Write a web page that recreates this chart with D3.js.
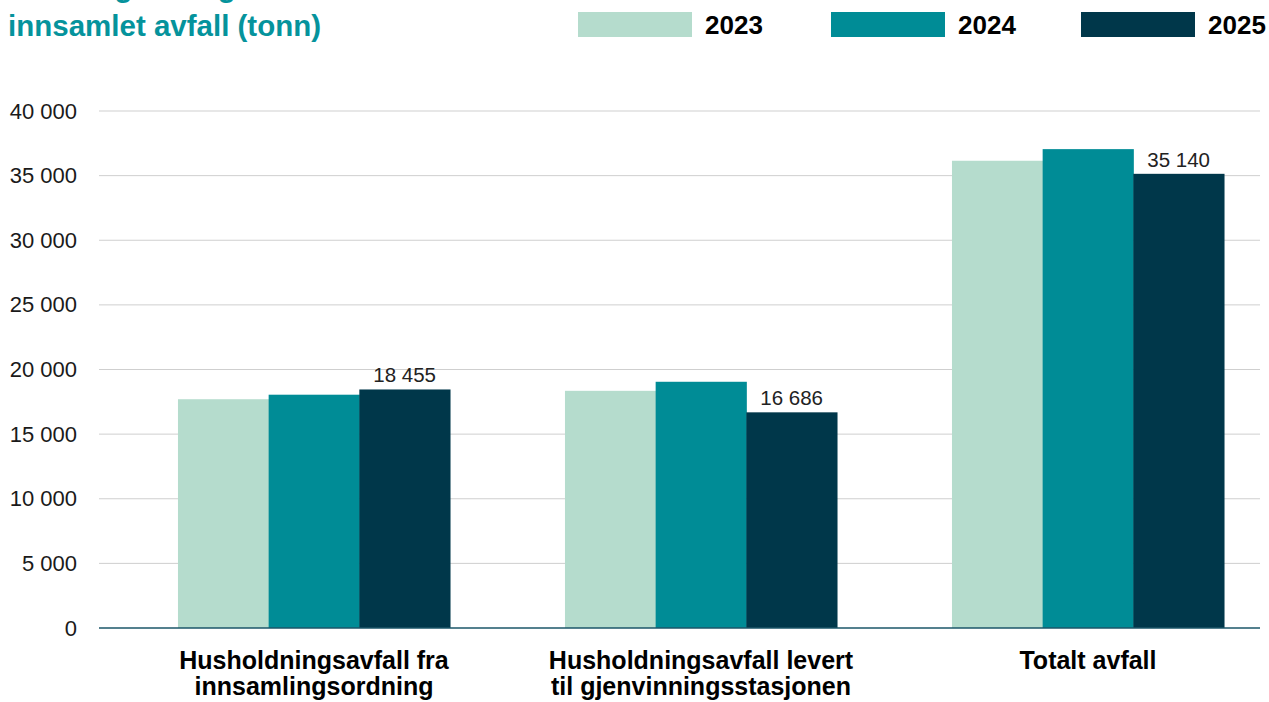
<html>
<script src='https://d3js.org/d3.v7.min.js'></script>
<style>
  body { margin: 0; background: white; }
  text { font-family: "Liberation Sans", Arial, Helvetica, sans-serif; }
</style>
<body>
<svg width=1269 height=702></svg>
<script>
// data
const categories = [
  ["Husholdningsavfall fra", "innsamlingsordning"],
  ["Husholdningsavfall levert", "til gjenvinningsstasjonen"],
  ["Totalt avfall"]
];
const years = ["2023", "2024", "2025"];
const values2023 = [17700, 18350, 36150];
const values2024 = [18050, 19050, 37050];
const values2025 = [18455, 16686, 35140];
const yTicks = [0, 5000, 10000, 15000, 20000, 25000, 30000, 35000, 40000];
const colors = ["#b5dccd", "#008c96", "#00374a"];

const series = [values2023, values2024, values2025];
const svg = d3.select("svg");

var plotLeft = 99, plotRight = 1260, plotTop = 111, plotBottom = 628;

var xs = d3.scaleBand()
  .domain(d3.range(categories.length))
  .range([plotLeft, plotRight])
  .paddingInner(0.297)
  .paddingOuter(0.1485)
  .align(0.687);

var xsub = d3.scaleBand()
  .domain(years)
  .range([0, xs.bandwidth()]);

var ys = d3.scaleLinear().domain([0, 40000]).range([plotBottom, plotTop]);

const fmt = v => d3.format(",")(v).replace(/,/g, " ");

// Title (first line is cut off at the top)
svg.append("text").attr("x", 8).attr("y", -3)
  .attr("font-size", 29.5).attr("font-weight", "bold").attr("fill", "#05939c")
  .text("Utvikling i mengde");
svg.append("text").attr("x", 8).attr("y", 36)
  .attr("font-size", 29.5).attr("font-weight", "bold").attr("fill", "#05939c")
  .text("innsamlet avfall (tonn)");

// Legend
var legendX = [578, 831, 1081];
years.forEach(function(yr, i) {
  svg.append("rect").attr("x", legendX[i]).attr("y", 12)
    .attr("width", 114).attr("height", 25).attr("fill", colors[i]);
  svg.append("text").attr("x", legendX[i] + 127).attr("y", 34)
    .attr("font-size", 26).attr("font-weight", "bold").attr("fill", "#000")
    .text(yr);
});

// Grid lines
svg.append("g")
  .selectAll("line")
  .data(yTicks.filter(d => d > 0))
  .enter()
  .append("line")
  .attr("x1", plotLeft).attr("x2", plotRight)
  .attr("y1", d => ys(d)).attr("y2", d => ys(d))
  .attr("stroke", "#cfcfcf").attr("stroke-width", 1);

// Y axis labels
svg.append("g")
  .attr("transform", "translate(" + 77 + ",0)")
  .call(d3.axisLeft(ys).tickValues(yTicks).tickSize(0).tickPadding(0).tickFormat(fmt))
  .call(g => g.select(".domain").remove())
  .call(g => g.selectAll("text")
    .attr("font-size", 22)
    .attr("font-family", "Liberation Sans, Arial, sans-serif")
    .attr("fill", "#1a1a1a"));

// Bars
var groups = svg.append("g")
  .selectAll("g")
  .data(categories)
  .enter()
  .append("g")
  .attr("transform", (d, i) => "translate(" + xs(i) + ",0)");

groups.selectAll("rect")
  .data((d, i) => years.map((yr, j) => ({ yr: yr, v: series[j][i], j: j })))
  .enter()
  .append("rect")
  .attr("x", d => xsub(d.yr))
  .attr("y", d => ys(d.v))
  .attr("width", xsub.bandwidth() + 0.5)
  .attr("height", d => plotBottom - ys(d.v))
  .attr("fill", d => colors[d.j]);

// Value labels for 2025
groups.append("text")
  .attr("x", xsub("2025") + xsub.bandwidth() / 2)
  .attr("y", (d, i) => ys(values2025[i]) - 7)
  .attr("text-anchor", "middle")
  .attr("font-size", 20.5)
  .attr("fill", "#222")
  .text((d, i) => fmt(values2025[i]));

// Baseline
svg.append("line")
  .attr("x1", plotLeft).attr("x2", plotRight)
  .attr("y1", ys(0)).attr("y2", ys(0))
  .attr("stroke", "#1b5668").attr("stroke-width", 1.5);

// Category labels
groups.append("text")
  .attr("x", xs.bandwidth() / 2)
  .attr("text-anchor", "middle")
  .attr("font-size", 25)
  .attr("font-weight", "bold")
  .attr("fill", "#000")
  .selectAll("tspan")
  .data(d => d)
  .enter()
  .append("tspan")
  .attr("x", xs.bandwidth() / 2)
  .attr("y", (d, i) => 669 + i * 26)
  .text(d => d);
</script>
</body>
</html>
